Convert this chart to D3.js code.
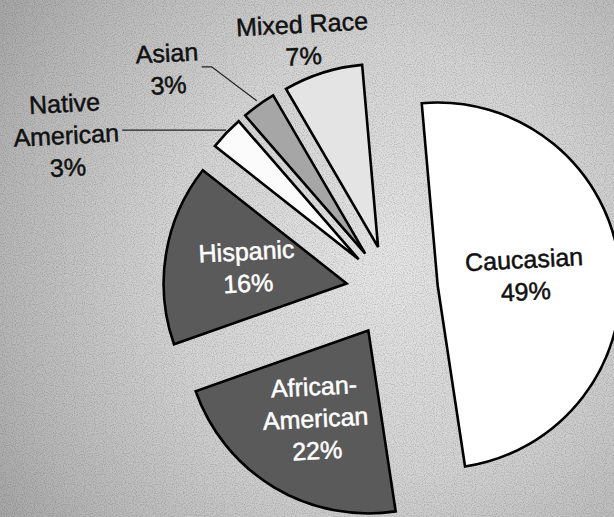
<!DOCTYPE html>
<html>
<head>
<meta charset="utf-8">
<script src="https://cdn.jsdelivr.net/npm/d3@7"></script>
<style>
  html, body { margin: 0; padding: 0; background: #c4c4c4; }
  svg { display: block; }
  text { font-family: "Liberation Sans", Arial, sans-serif; }
</style>
</head>
<body>
<svg id="chart" width="614" height="517"></svg>
<script>
// ---- data ----
const categories = ["Caucasian", "African-American", "Hispanic", "Native American", "Asian", "Mixed Race"];
const values = [49, 22, 16, 3, 3, 7];
const labelLines = [
  ["Caucasian", "49%"],
  ["African-", "American", "22%"],
  ["Hispanic", "16%"],
  ["Native", "American", "3%"],
  ["Asian", "3%"],
  ["Mixed Race", "7%"]
];

// ---- style / layout ----
const W = 614, H = 517;
const cx = 392, cy = 291;
const R = 183;
const explode = 46;
const rotation = -5 * Math.PI / 180;
const fontSize = 25;
const lineGap = 32;
const fills = {
  "Caucasian": "#ffffff",
  "African-American": "#5a5a5a",
  "Hispanic": "#5a5a5a",
  "Native American": "#fbfbfb",
  "Asian": "#a6a6a6",
  "Mixed Race": "#e4e4e4"
};
const textColors = {
  "Caucasian": "#111", "African-American": "#fff", "Hispanic": "#fff",
  "Native American": "#111", "Asian": "#111", "Mixed Race": "#111"
};
// inside label radius factors (fraction of R); null -> outside label
const insideFactor = { "Caucasian": 0.48, "African-American": 0.56, "Hispanic": 0.55 };
// outside label placement: offset of the text block from the outer arc midpoint, plus leader routing
const outside = {
  "Native American": { dx: -160, dy: 2, leader: "horizontal", leaderEnd: -104 },
  "Asian": { dx: -91, dy: -36, leader: "elbow", elbow: [-47, -38], stub: -10 },
  "Mixed Race": { dx: -20, dy: -33, leader: null }
};

const svg = d3.select("#chart");

// background
const defs = svg.append("defs");
const grad = defs.append("radialGradient").attr("id", "bg")
  .attr("gradientUnits", "userSpaceOnUse")
  .attr("cx", 380).attr("cy", 260).attr("r", 470);
grad.append("stop").attr("offset", "0").attr("stop-color", "#e6e6e6");
grad.append("stop").attr("offset", "0.45").attr("stop-color", "#d4d4d4");
grad.append("stop").attr("offset", "0.8").attr("stop-color", "#b8b8b8");
grad.append("stop").attr("offset", "1").attr("stop-color", "#a4a4a4");
svg.append("rect").attr("width", W).attr("height", H).attr("fill", "url(#bg)");

// grain
const filt = defs.append("filter").attr("id", "grain").attr("x", 0).attr("y", 0).attr("width", "100%").attr("height", "100%");
filt.append("feTurbulence").attr("type", "fractalNoise").attr("baseFrequency", 0.9).attr("numOctaves", 1).attr("seed", 3).attr("result", "n");
filt.append("feColorMatrix").attr("in", "n").attr("type", "matrix")
  .attr("values", "0 0 0 0 0  0 0 0 0 0  0 0 0 0 0  0 0 0 -2.2 1.25");
svg.append("rect").attr("width", W).attr("height", H).attr("filter", "url(#grain)").attr("opacity", 0.2);

const data = categories.map((c, i) => ({ category: c, value: values[i], lines: labelLines[i] }));

const pie = d3.pie().sort(null).value(d => d.value)
  .startAngle(rotation).endAngle(rotation + 2 * Math.PI);
const arcs = pie(data);

const arc = d3.arc().innerRadius(0).outerRadius(R);

function dirOf(a) {
  const mid = (a.startAngle + a.endAngle) / 2;
  return [Math.sin(mid), -Math.cos(mid)];
}

const g = svg.append("g").attr("transform", `translate(${cx},${cy})`);

const slices = g.selectAll("g.slice").data(arcs).join("g")
  .attr("class", "slice")
  .attr("transform", d => {
    const [ux, uy] = dirOf(d);
    return `translate(${ux * explode},${uy * explode})`;
  });

slices.append("path")
  .attr("d", arc)
  .attr("fill", d => fills[d.data.category])
  .attr("stroke", "#000")
  .attr("stroke-width", 2.6)
  .attr("stroke-linejoin", "miter");

function drawLines(sel, lines, x, y, color) {
  const t = sel.append("text")
    .attr("text-anchor", "middle")
    .attr("font-size", fontSize)
    .attr("fill", color)
    .attr("stroke", color)
    .attr("stroke-width", 0.5)
    .attr("transform", `rotate(-3 ${x} ${y})`);
  const n = lines.length;
  lines.forEach((ln, i) => {
    t.append("tspan")
      .attr("x", x)
      .attr("y", y + (i - (n - 1) / 2) * lineGap + fontSize * 0.36)
      .text(ln);
  });
}

// labels
arcs.forEach(a => {
  const cat = a.data.category;
  const [ux, uy] = dirOf(a);
  const ox = ux * explode, oy = uy * explode;
  if (insideFactor[cat] != null) {
    const r = insideFactor[cat] * R;
    drawLines(g, a.data.lines, ox + ux * r, oy + uy * r, textColors[cat]);
  } else {
    const o = outside[cat];
    const px = ox + ux * R, py = oy + uy * R;   // outer arc midpoint
    if (o.leader === "horizontal") {
      g.append("line").attr("x1", px).attr("y1", py - 3).attr("x2", px + o.leaderEnd).attr("y2", py - 3)
        .attr("stroke", "#222").attr("stroke-width", 1.3);
    } else if (o.leader === "elbow") {
      const ex = px + o.elbow[0], ey = py + o.elbow[1];
      g.append("polyline")
        .attr("points", [[px - 2, py - 4], [ex, ey], [ex + o.stub, ey]].map(p => p.join(",")).join(" "))
        .attr("fill", "none").attr("stroke", "#222").attr("stroke-width", 1.3);
    }
    drawLines(g, a.data.lines, px + o.dx, py + o.dy, textColors[cat]);
  }
});
</script>
</body>
</html>
